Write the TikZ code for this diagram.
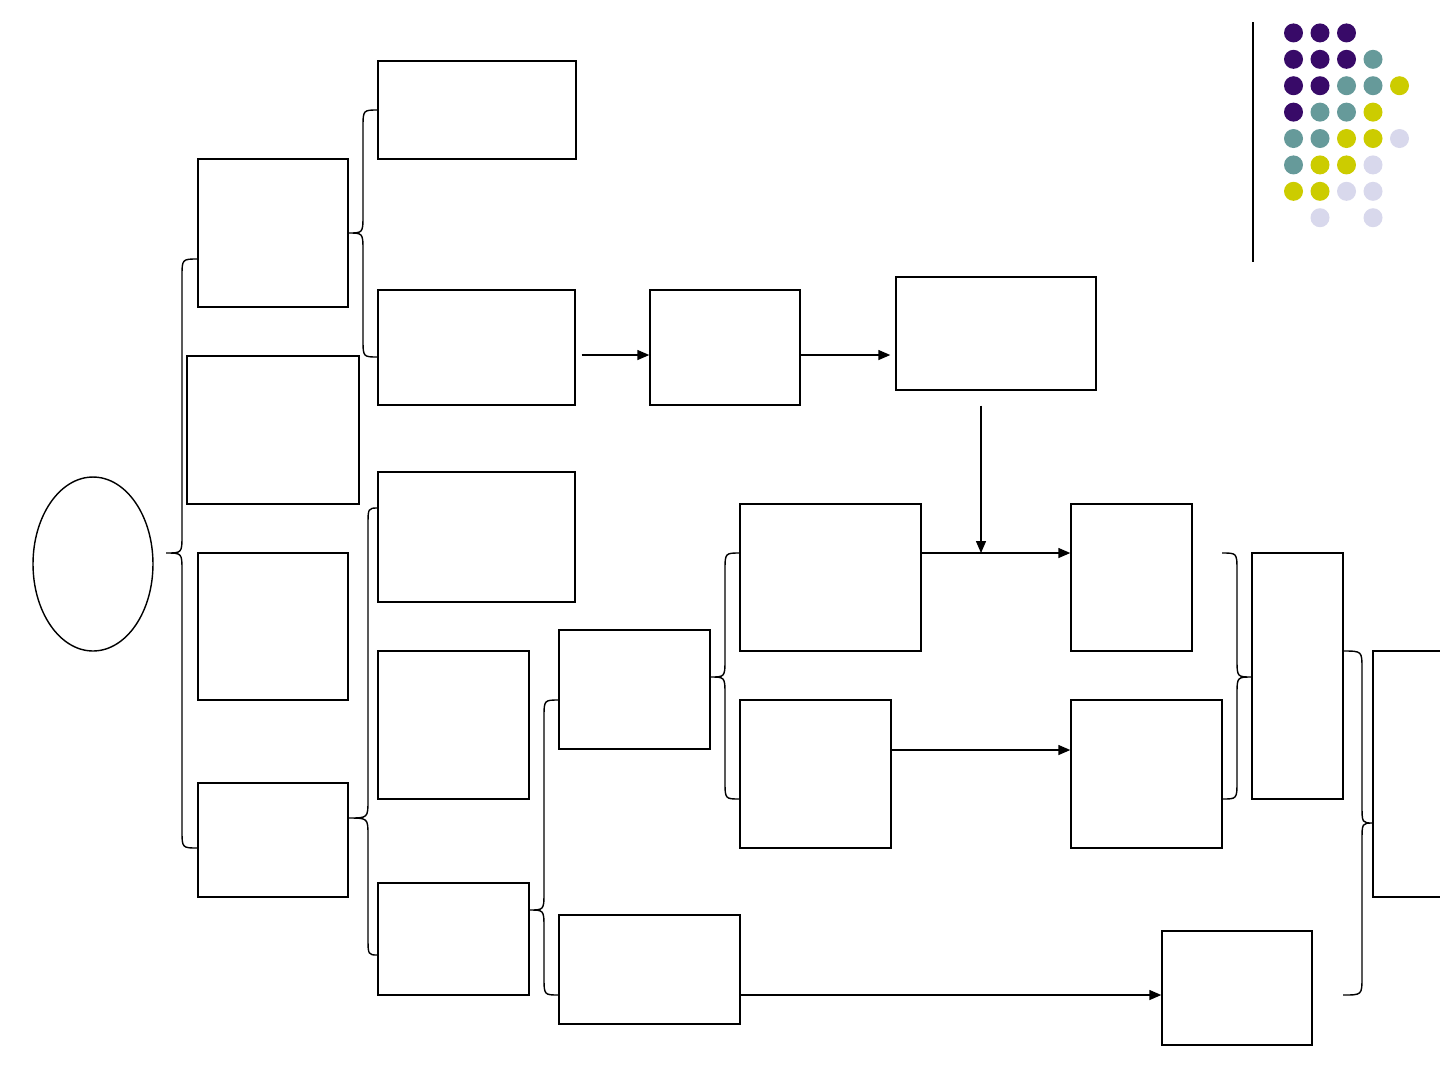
\documentclass[tikz,border=0pt]{standalone}
\usetikzlibrary{positioning,fit,shapes.geometric,arrows.meta}

\definecolor{dotpurple}{HTML}{380A68}
\definecolor{dotteal}{HTML}{669A9A}
\definecolor{dotyellow}{HTML}{CCCC00}
\definecolor{dotlilac}{HTML}{D8D8EC}

% curly bracket: tip x, line x, end x, top y, tip y, bottom y
\newcommand{\curly}[6]{%
  \draw (#3,#4) .. controls (#2,#4) .. (#2,#4+18) -- (#2,#5-18)
    .. controls (#2,#5) .. (#1,#5) .. controls (#2,#5) .. (#2,#5+18)
    -- (#2,#6-18) .. controls (#2,#6) .. (#3,#6);}

\tikzset{
  box/.style={draw, line width=0.8pt, inner sep=0pt},
  arr/.style={-{Triangle[length=2.4mm,width=2mm]}}
}

\begin{document}
\begin{tikzpicture}[x=0.02cm, y=-0.02cm, line width=0.8pt]
    \clip (0,0) rectangle (1440,1080);
    \fill[white] (0,0) rectangle (1440,1080);

    % Root
    \node[draw, ellipse, line width=0.8pt, minimum width=2.4cm, minimum height=3.48cm, inner sep=0pt] (root) at (93,564) {};

    % First column
    \node[box, fit={(198,159) (348,307)}] (a1) {};
    \node[box, fit={(187,356) (359,504)}] (a2) {};
    \node[box, fit={(198,553) (348,700)}] (a3) {};
    \node[box, fit={(198,783) (348,897)}] (a4) {};

    % Second column
    \node[box, fit={(378,61) (576,159)}] (b1) {};
    \node[box, fit={(378,290) (575,405)}] (b2) {};
    \node[box, fit={(378,472) (575,602)}] (b3) {};
    \node[box, fit={(378,651) (529,799)}] (b4) {};
    \node[box, fit={(378,883) (529,995)}] (b5) {};

    % Upper chain
    \node[box, fit={(650,290) (800,405)}] (c2) {};
    \node[box, fit={(896,277) (1096,390)}] (d2) {};

    % Lower part
    \node[box, fit={(559,630) (710,749)}] (c5) {};
    \node[box, fit={(559,915) (740,1024)}] (c6) {};
    \node[box, fit={(740,504) (921,651)}] (e1) {};
    \node[box, fit={(740,700) (891,848)}] (e2) {};
    \node[box, fit={(1071,504) (1192,651)}] (f1) {};
    \node[box, fit={(1071,700) (1222,848)}] (f2) {};
    \node[box, fit={(1252,553) (1343,799)}] (g1) {};
    \node[box, fit={(1162,931) (1312,1045)}] (g2) {};
    \node[box, fit={(1373,651) (1460,897)}] (h1) {};

    % Brackets
    \curly{166}{182}{198}{259}{553}{848}
    \curly{348}{363}{378}{110}{233}{357}
    \curly{348}{368}{378}{508}{818}{955}
    \curly{529}{544}{559}{700}{910}{995}
    \curly{710}{725}{740}{553}{677}{799}
    \curly{1252}{1237}{1222}{553}{677}{799}
    \curly{1373}{1362}{1343}{651}{823}{995}

    % Arrows
    \coordinate (j) at (981,553);
    \coordinate (k) at (0,355);
    \draw[arr] ([xshift=0.12cm]b2.east |- k) -- (c2.west |- k);
    \draw[arr] (c2.east |- k) -- ([xshift=-0.1cm]d2.west |- k);
    \draw[arr] ([yshift=-0.3cm]d2.south -| j) -- (j);
    \draw[arr] (e1.east |- j) -- (f1.west |- j);
    \draw[arr] (e2.east |- 0,750) -- (f2.west |- 0,750);
    \draw[arr] (c6.east |- 0,995) -- (g2.west |- 0,995);

    % Corner decoration
    \draw (1253,22) -- (1253,262);
    \foreach \c/\r/\col in {
        1/1/dotpurple, 2/1/dotpurple, 3/1/dotpurple,
        1/2/dotpurple, 2/2/dotpurple, 3/2/dotpurple, 4/2/dotteal,
        1/3/dotpurple, 2/3/dotpurple, 3/3/dotteal, 4/3/dotteal, 5/3/dotyellow,
        1/4/dotpurple, 2/4/dotteal, 3/4/dotteal, 4/4/dotyellow,
        1/5/dotteal, 2/5/dotteal, 3/5/dotyellow, 4/5/dotyellow, 5/5/dotlilac,
        1/6/dotteal, 2/6/dotyellow, 3/6/dotyellow, 4/6/dotlilac,
        1/7/dotyellow, 2/7/dotyellow, 3/7/dotlilac, 4/7/dotlilac,
        2/8/dotlilac, 4/8/dotlilac}
      \fill[\col] ({1267+26.5*\c},{6.5+26.4*\r}) circle (9.5);
\end{tikzpicture}
\end{document}
